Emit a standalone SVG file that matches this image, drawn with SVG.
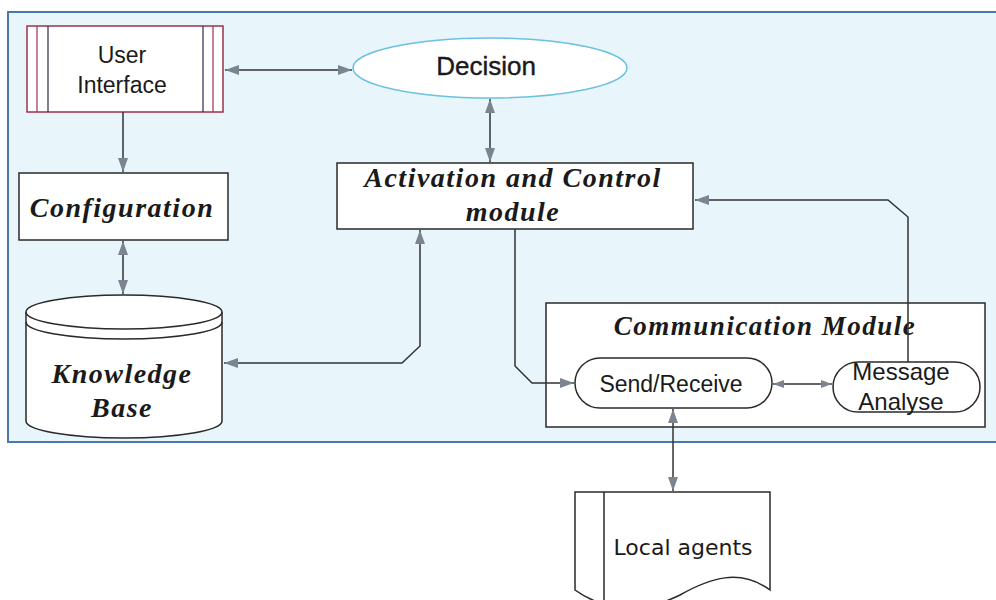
<svg xmlns="http://www.w3.org/2000/svg" width="996" height="600" viewBox="0 0 996 600">
<defs>
<marker id="ah" viewBox="0 0 14 10" refX="14" refY="5" markerWidth="14" markerHeight="10" markerUnits="userSpaceOnUse" orient="auto-start-reverse">
<path d="M0,0 L14,5 L0,10 z" fill="#7b848f"/>
</marker>
<marker id="ahs" viewBox="0 0 14 10" refX="14" refY="5" markerWidth="11" markerHeight="8" markerUnits="userSpaceOnUse" orient="auto-start-reverse">
<path d="M0,0 L14,5 L0,10 z" fill="#7b848f"/>
</marker>
</defs>
<style>
.box{fill:#ffffff;stroke:#2a2a2a;stroke-width:1.5}
.sans{font-family:"Liberation Sans",Arial,sans-serif;fill:#1a1a1a;text-anchor:middle}
.ser{font-family:"Liberation Serif","Times New Roman",serif;font-style:italic;font-weight:bold;fill:#1a1a1a;text-anchor:middle;letter-spacing:1.5px}
.con{fill:none;stroke:#333;stroke-width:1.5}
</style>
<rect x="0" y="0" width="996" height="600" fill="#ffffff"/>
<rect id="panel" x="8" y="12" width="1000" height="430" fill="#e8f6fb" stroke="#4a78ae" stroke-width="2"/>

<g id="user-interface">
<rect x="27" y="26" width="196" height="86" fill="#ffffff" stroke="#a0304a" stroke-width="1.5"/>
<line x1="37" y1="26" x2="37" y2="112" stroke="#a0304a" stroke-width="1.2"/>
<line x1="48" y1="26" x2="48" y2="112" stroke="#2a2a4a" stroke-width="1.2"/>
<line x1="203" y1="26" x2="203" y2="112" stroke="#2a2a4a" stroke-width="1.2"/>
<line x1="213" y1="26" x2="213" y2="112" stroke="#a0304a" stroke-width="1.2"/>
<text class="sans" x="122" y="63" font-size="23">User</text>
<text class="sans" x="122" y="93" font-size="23">Interface</text>
</g>

<g id="decision">
<ellipse cx="490" cy="68" rx="137" ry="30" fill="#ffffff" stroke="#6cc0e0" stroke-width="1.5"/>
<text class="sans" x="486" y="75" font-size="26" stroke="#1a1a1a" stroke-width="0.4">Decision</text>
</g>

<g id="configuration">
<rect class="box" x="19" y="173" width="209" height="67"/>
<text class="ser" x="122" y="217" font-size="28">Configuration</text>
</g>

<g id="activation">
<rect class="box" x="337" y="163" width="356" height="66"/>
<text class="ser" x="513" y="187" font-size="28">Activation and Control</text>
<text class="ser" x="513" y="221" font-size="28">module</text>
</g>

<g id="knowledge-base">
<path d="M26,312 L26,421 A98,17 0 0 0 222,421 L222,312" fill="#ffffff" stroke="#2a2a2a" stroke-width="1.5"/>
<ellipse cx="124" cy="312" rx="98" ry="17" fill="#ffffff" stroke="#2a2a2a" stroke-width="1.5"/>
<path d="M26,322 A98,17 0 0 0 222,322" fill="none" stroke="#2a2a2a" stroke-width="1.5"/>
<text class="ser" x="122" y="383" font-size="28">Knowledge</text>
<text class="ser" x="122" y="417" font-size="28">Base</text>
</g>

<g id="communication-module">
<rect class="box" x="546" y="303" width="439" height="124"/>
<text class="ser" x="765" y="335" font-size="27">Communication Module</text>
</g>

<g id="send-receive">
<rect class="box" x="575" y="358" width="197" height="50" rx="25"/>
<text class="sans" x="671" y="392" font-size="23">Send/Receive</text>
</g>

<g id="message-analyse">
<rect class="box" x="833" y="362" width="147" height="50" rx="25"/>
<text class="sans" x="901" y="380" font-size="24">Message</text>
<text class="sans" x="901" y="410" font-size="24">Analyse</text>
</g>

<g id="local-agents">
<path class="box" d="M575,492 H770 V590 C740,568 710,578 680,595 C650,610 610,615 575,590 Z"/>
<line x1="604" y1="492" x2="604" y2="600" stroke="#2a2a2a" stroke-width="1.5"/>
<text x="683" y="555" font-size="22" font-family="'DejaVu Sans',Verdana,sans-serif" fill="#1a1a1a" text-anchor="middle">Local agents</text>
</g>

<g id="connectors">
<path class="con" d="M225,70 L352,70" marker-start="url(#ah)" marker-end="url(#ah)"/>
<path class="con" d="M123,112 L123,172" marker-end="url(#ah)"/>
<path class="con" d="M490,99 L490,162" marker-start="url(#ah)" marker-end="url(#ah)"/>
<path class="con" d="M123,241 L123,294" marker-start="url(#ah)" marker-end="url(#ah)"/>
<path class="con" d="M420,230 L420,346 L402,363 L224,363" marker-start="url(#ah)" marker-end="url(#ah)"/>
<path class="con" d="M515,229 L515,366 L532,383 L574,383" marker-end="url(#ah)"/>
<path class="con" d="M908,362 L908,217 L888,200 L695,200" marker-end="url(#ah)"/>
<path class="con" d="M773,384 L832,384" marker-start="url(#ahs)" marker-end="url(#ahs)"/>
<path class="con" d="M673,409 L673,491" marker-start="url(#ah)" marker-end="url(#ah)"/>
</g>
</svg>
